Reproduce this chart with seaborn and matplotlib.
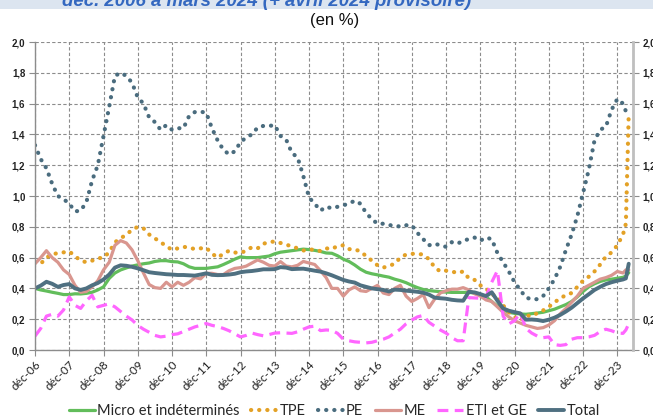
import matplotlib
matplotlib.use("Agg")
import matplotlib.pyplot as plt
from matplotlib.patches import Rectangle
import seaborn as sns
import pandas as pd

# ---------------- data (month offsets from déc-06) ----------------
months = list(range(0, 207, 2)) + [207, 208]

micro = [0.40, 0.39, 0.383, 0.375, 0.368, 0.36, 0.36, 0.365, 0.364, 0.368,
         0.375, 0.39, 0.41, 0.465, 0.50, 0.52, 0.533, 0.545, 0.553, 0.56,
         0.565, 0.575, 0.58, 0.58, 0.574, 0.572, 0.56, 0.54, 0.53, 0.53,
         0.53, 0.535, 0.54, 0.555, 0.572, 0.59, 0.605, 0.60, 0.60, 0.60,
         0.605, 0.61, 0.625, 0.635, 0.64, 0.645, 0.65, 0.655, 0.652, 0.647,
         0.64, 0.63, 0.628, 0.612, 0.59, 0.575, 0.552, 0.525, 0.505, 0.495,
         0.488, 0.48, 0.473, 0.46, 0.45, 0.437, 0.42, 0.405, 0.393, 0.386,
         0.382, 0.379, 0.376, 0.374, 0.374, 0.374, 0.374, 0.37, 0.36, 0.345,
         0.315, 0.285, 0.262, 0.245, 0.238, 0.234, 0.232, 0.236, 0.24, 0.245,
         0.255, 0.265, 0.28, 0.295, 0.315, 0.345, 0.38, 0.41, 0.43, 0.445,
         0.455, 0.46, 0.466, 0.472, 0.48, 0.502]

tpe = [0.57, 0.56, 0.60, 0.62, 0.63, 0.634, 0.64, 0.61, 0.58, 0.57,
       0.58, 0.595, 0.60, 0.635, 0.70, 0.725, 0.75, 0.78, 0.80, 0.79,
       0.75, 0.725, 0.70, 0.675, 0.65, 0.66, 0.67, 0.665, 0.655, 0.66,
       0.664, 0.626, 0.60, 0.625, 0.645, 0.633, 0.63, 0.645, 0.668, 0.66,
       0.69, 0.70, 0.705, 0.695, 0.684, 0.673, 0.66, 0.646, 0.652, 0.652,
       0.642, 0.66, 0.656, 0.675, 0.68, 0.655, 0.654, 0.64, 0.61, 0.58,
       0.55, 0.535, 0.546, 0.56, 0.60, 0.62, 0.625, 0.624, 0.62, 0.59,
       0.537, 0.51, 0.515, 0.51, 0.50, 0.51, 0.465, 0.455, 0.42, 0.40,
       0.36, 0.35, 0.29, 0.245, 0.215, 0.19, 0.225, 0.22, 0.24, 0.257,
       0.28, 0.31, 0.335, 0.357, 0.37, 0.41, 0.45, 0.476, 0.51, 0.555,
       0.606, 0.634, 0.68, 0.75, 0.82, 1.53]

pe = [1.33, 1.24, 1.18, 1.08, 1.00, 0.98, 0.95, 0.90, 0.905, 0.96,
      1.10, 1.20, 1.39, 1.58, 1.78, 1.80, 1.78, 1.735, 1.64, 1.60,
      1.51, 1.48, 1.43, 1.46, 1.43, 1.44, 1.44, 1.52, 1.545, 1.548,
      1.54, 1.44, 1.36, 1.30, 1.27, 1.29, 1.35, 1.38, 1.40, 1.445,
      1.455, 1.455, 1.46, 1.39, 1.366, 1.28, 1.25, 1.13, 0.99, 0.95,
      0.905, 0.93, 0.92, 0.93, 0.94, 0.95, 0.97, 0.95, 0.89, 0.85,
      0.82, 0.82, 0.81, 0.81, 0.80, 0.81, 0.81, 0.76, 0.72, 0.68,
      0.69, 0.68, 0.67, 0.70, 0.69, 0.71, 0.72, 0.73, 0.71, 0.73,
      0.72, 0.63, 0.57, 0.51, 0.44, 0.39, 0.34, 0.33, 0.33, 0.35,
      0.40, 0.46, 0.54, 0.65, 0.75, 0.87, 1.02, 1.17, 1.36, 1.43,
      1.45, 1.56, 1.63, 1.60, 1.55, 1.55]

me = [0.56, 0.60, 0.645, 0.60, 0.57, 0.52, 0.49, 0.42, 0.375, 0.38,
      0.41, 0.45, 0.52, 0.57, 0.68, 0.71, 0.695, 0.65, 0.58, 0.50,
      0.425, 0.405, 0.40, 0.44, 0.41, 0.44, 0.42, 0.44, 0.47, 0.462,
      0.498, 0.498, 0.49, 0.49, 0.515, 0.53, 0.535, 0.545, 0.565, 0.585,
      0.57, 0.55, 0.545, 0.574, 0.545, 0.54, 0.55, 0.575, 0.565, 0.555,
      0.515, 0.47, 0.40, 0.40, 0.35, 0.39, 0.41, 0.385, 0.38, 0.40,
      0.42, 0.37, 0.36, 0.40, 0.42, 0.35, 0.315, 0.335, 0.36, 0.275,
      0.33, 0.37, 0.385, 0.395, 0.395, 0.405, 0.39, 0.365, 0.35, 0.325,
      0.315, 0.28, 0.245, 0.215, 0.19, 0.175, 0.16, 0.15, 0.14, 0.145,
      0.162, 0.19, 0.235, 0.27, 0.31, 0.35, 0.40, 0.42, 0.44, 0.46,
      0.47, 0.485, 0.51, 0.50, 0.52, 0.52]

eti = [0.09, 0.14, 0.22, 0.232, 0.22, 0.26, 0.345, 0.29, 0.27, 0.32,
       0.355, 0.28, 0.29, 0.30, 0.28, 0.25, 0.22, 0.195, 0.16, 0.135,
       0.115, 0.095, 0.085, 0.09, 0.10, 0.105, 0.12, 0.135, 0.15, 0.16,
       0.172, 0.16, 0.152, 0.14, 0.125, 0.105, 0.085, 0.095, 0.11, 0.10,
       0.092, 0.10, 0.11, 0.112, 0.11, 0.108, 0.118, 0.135, 0.15, 0.155,
       0.126, 0.13, 0.128, 0.108, 0.07, 0.06, 0.053, 0.05, 0.046, 0.05,
       0.06, 0.07, 0.085, 0.11, 0.135, 0.17, 0.195, 0.215, 0.225, 0.18,
       0.155, 0.13, 0.11, 0.08, 0.06, 0.06, 0.34, 0.338, 0.336, 0.345,
       0.44, 0.515, 0.22, 0.17, 0.19, 0.24, 0.14, 0.11, 0.09, 0.08,
       0.085, 0.035, 0.03, 0.035, 0.07, 0.08, 0.08, 0.085, 0.095, 0.12,
       0.135, 0.125, 0.11, 0.108, 0.13, 0.17]

total = [0.40, 0.418, 0.443, 0.43, 0.41, 0.422, 0.428, 0.40, 0.39, 0.40,
         0.42, 0.435, 0.458, 0.49, 0.535, 0.55, 0.547, 0.54, 0.53, 0.518,
         0.505, 0.50, 0.496, 0.492, 0.49, 0.487, 0.487, 0.485, 0.483, 0.49,
         0.498, 0.488, 0.486, 0.487, 0.49, 0.495, 0.505, 0.51, 0.513, 0.518,
         0.524, 0.524, 0.525, 0.538, 0.535, 0.525, 0.527, 0.528, 0.522, 0.515,
         0.509, 0.498, 0.485, 0.47, 0.455, 0.445, 0.438, 0.42, 0.41, 0.40,
         0.395, 0.39, 0.38, 0.392, 0.39, 0.385, 0.382, 0.378, 0.372, 0.36,
         0.34, 0.336, 0.333, 0.326, 0.322, 0.32, 0.378, 0.374, 0.363, 0.35,
         0.375, 0.32, 0.27, 0.255, 0.246, 0.238, 0.197, 0.198, 0.195, 0.188,
         0.197, 0.21, 0.228, 0.25, 0.275, 0.305, 0.335, 0.362, 0.39, 0.41,
         0.428, 0.44, 0.45, 0.458, 0.465, 0.56]

series_names = ["Micro et indéterminés", "TPE", "PE", "ME", "ETI et GE", "Total"]
xtick_months = list(range(0, 205, 12))
xtick_labels = ["déc-%02d" % y for y in range(6, 24)]
ytick_values = [0.0, 0.2, 0.4, 0.6, 0.8, 1.0, 1.2, 1.4, 1.6, 1.8, 2.0]
ytick_labels = ["0,0", "0,2", "0,4", "0,6", "0,8", "1,0", "1,2", "1,4", "1,6", "1,8", "2,0"]
title_text = "déc. 2006 à mars 2024 (+ avril 2024 provisoire)"
unit_text = "(en %)"

# ---------------- styling ----------------
sns.set_style("white")
plt.rcParams["font.family"] = ["Liberation Sans", "DejaVu Sans"]

W, H = 653, 419
fig = plt.figure(figsize=(W / 100, H / 100), dpi=100)
ax = fig.add_axes([35 / W, 1 - 350 / H, (633 - 35) / W, (350 - 42) / H])

df = pd.DataFrame({"month": months, series_names[0]: micro, series_names[1]: tpe,
                   series_names[2]: pe, series_names[3]: me, series_names[4]: eti,
                   series_names[5]: total})

dot = (0, (0.05, 1.9))
styles = {
    "Micro et indéterminés": dict(color="#62bd5b", lw=2.3, ls="-"),
    "TPE": dict(color="#e3a126", lw=3.0, ls=dot, dash_capstyle="round"),
    "PE": dict(color="#4a6c7e", lw=3.0, ls=dot, dash_capstyle="round"),
    "ME": dict(color="#d9968f", lw=2.3, ls="-"),
    "ETI et GE": dict(color="#ff66ff", lw=2.3, ls=(0, (3.4, 2.0))),
    "Total": dict(color="#4f7081", lw=2.8, ls="-"),
}
for name in series_names:
    st = styles[name]
    extra = {k: v for k, v in st.items() if k not in ("color", "lw", "ls")}
    sns.lineplot(data=df, x="month", y=name, ax=ax, color=st["color"], linewidth=st["lw"],
                 linestyle=st["ls"], label=name, estimator=None, sort=False, legend=False,
                 **extra)

ax.set_xlim(0, 209.5)
ax.set_ylim(0, 2.0)
ax.set_xlabel("")
ax.set_ylabel("")
ax.set_xticks(xtick_months)
ax.set_xticklabels(xtick_labels, rotation=45, ha="right", rotation_mode="anchor",
                   fontsize=8.5, family=["Lato", "DejaVu Sans"], color="#222222")
ax.set_yticks(ytick_values)
ax.set_yticklabels(ytick_labels, fontsize=7, fontweight="bold", color="#222222")
ax.grid(True, color="#8c8c8c", linestyle=(0, (3, 2)), linewidth=0.8)
ax.tick_params(axis="x", direction="out", length=4, width=0.8, color="#8c8c8c", pad=2,
               bottom=True)
ax.tick_params(axis="y", direction="out", length=4, width=0.8, color="#8c8c8c", pad=3,
               left=True)
for s in ("top", "right"):
    ax.spines[s].set_visible(False)
for s in ("left", "bottom"):
    ax.spines[s].set_color("#8c8c8c")
    ax.spines[s].set_linewidth(1.0)

ax2 = ax.twinx()
ax2.set_ylim(0, 2.0)
ax2.set_yticks(ytick_values)
ax2.set_yticklabels(ytick_labels, fontsize=7, fontweight="bold", color="#222222")
ax2.tick_params(axis="y", direction="out", length=4, width=0.8, color="#8c8c8c", pad=3,
                right=True)
for s in ("top", "left", "bottom"):
    ax2.spines[s].set_visible(False)
ax2.spines["right"].set_color("#bfbfbf")
ax2.spines["right"].set_linewidth(2.0)
ax2.grid(False)

# legend
handles, labels = ax.get_legend_handles_labels()
leg = fig.legend(handles, labels, loc="center", bbox_to_anchor=(0.512, 1 - 411 / H), ncol=6,
                 frameon=False, handlelength=1.8, handletextpad=0.15,
                 columnspacing=0.8, prop={"family": ["Lato", "DejaVu Sans"], "size": 10.5})

# top band + cut title
fig.patches.append(Rectangle((0, 1 - 9 / H), 1, 9 / H, transform=fig.transFigure,
                             facecolor="#dce5f0", edgecolor="none", zorder=0))
fig.text(62 / W, 1 - 6 / H, title_text, fontsize=13.4, fontweight="bold", style="italic",
         color="#3468c0", ha="left", va="baseline")
fig.text(0.513, 1 - 20 / H, unit_text, fontsize=12, ha="center", va="center",
         color="#111111")

fig.savefig("out.png", dpi=100)
